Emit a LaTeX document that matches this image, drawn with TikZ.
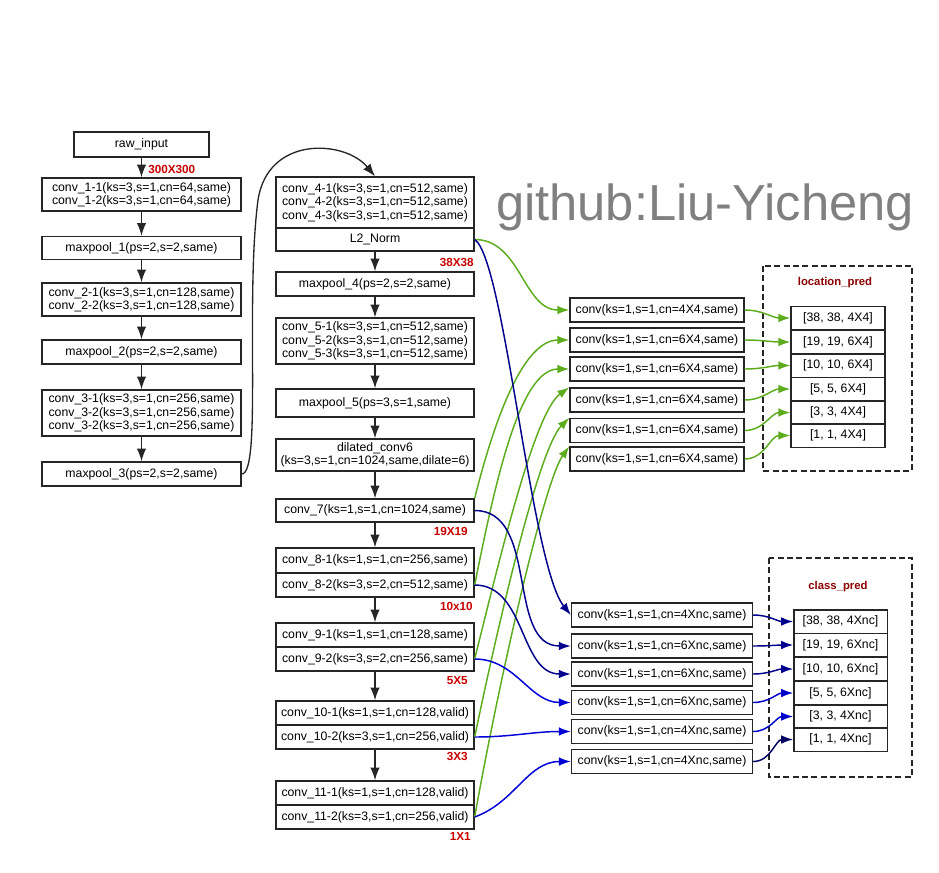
\documentclass[tikz,border=0pt]{standalone}
\usepackage{fontspec}
\setmainfont{Liberation Sans}
\usetikzlibrary{arrows.meta,positioning}
\definecolor{lgreen}{RGB}{92,172,30}
\definecolor{navy}{RGB}{0,0,140}
\definecolor{lblue}{RGB}{0,0,215}
\definecolor{dimred}{RGB}{200,0,0}
\definecolor{titlered}{RGB}{140,0,0}

\tikzset{
  box/.style={draw=black!85, line width=1pt, fill=white, inner sep=0pt, align=center, font=\fontsize{9.2}{10}\selectfont},
  dimlabel/.style={text=dimred, inner sep=0pt, font=\fontsize{8.8}{9}\selectfont\bfseries},
  predtitle/.style={text=titlered, inner sep=0pt, font=\fontsize{8.5}{9}\selectfont\bfseries},
  flow/.style={-{Latex[length=9.5pt,width=7pt]}, line width=1pt, black!85},
  gline/.style={-{Latex[length=9pt,width=6.5pt]}, line width=1.1pt, lgreen},
  bline/.style={-{Latex[length=9pt,width=6.5pt]}, line width=1.1pt, navy},
  frame/.style={draw=black!85, line width=1pt, dash pattern=on 4.5pt off 2.5pt},
}

\begin{document}
\begin{tikzpicture}[x=0.75pt,y=-0.75pt]
\useasboundingbox (0,0) rectangle (939,872);

% watermark
\node[text=black!50, font=\fontsize{38}{38}\selectfont] (wm) at (705,207) {github:Liu-Yicheng};

% left column
\node[box, minimum width=101.25pt, minimum height=18.75pt] (raw) at (141.5,144.5) {raw\_input};
\node[box, minimum width=149.25pt, minimum height=24.75pt] (c1) at (141.5,194.5) {conv\_1-1(ks=3,s=1,cn=64,same)\\conv\_1-2(ks=3,s=1,cn=64,same)};
\node[box, minimum width=149.25pt, minimum height=17.25pt] (mp1) at (141.5,248) {maxpool\_1(ps=2,s=2,same)};
\node[box, minimum width=149.25pt, minimum height=24.75pt] (c2) at (141.5,299.5) {conv\_2-1(ks=3,s=1,cn=128,same)\\conv\_2-2(ks=3,s=1,cn=128,same)};
\node[box, minimum width=149.25pt, minimum height=18pt] (mp2) at (141.5,352) {maxpool\_2(ps=2,s=2,same)};
\node[box, minimum width=149.25pt, minimum height=34.5pt] (c3) at (141.5,413) {conv\_3-1(ks=3,s=1,cn=256,same)\\conv\_3-2(ks=3,s=1,cn=256,same)\\conv\_3-2(ks=3,s=1,cn=256,same)};
\node[box, minimum width=149.25pt, minimum height=18pt] (mp3) at (141.5,474) {maxpool\_3(ps=2,s=2,same)};

% middle column
\node[box, minimum width=148.5pt, minimum height=38.25pt] (c4) at (375,202.5) {conv\_4-1(ks=3,s=1,cn=512,same)\\conv\_4-2(ks=3,s=1,cn=512,same)\\conv\_4-3(ks=3,s=1,cn=512,same)};
\node[box, minimum width=148.5pt, minimum height=17.25pt] (l2) at (375,239.5) {L2\_Norm};
\node[box, minimum width=148.5pt, minimum height=18pt] (mp4) at (375,284) {maxpool\_4(ps=2,s=2,same)};
\node[box, minimum width=148.5pt, minimum height=34.5pt] (c5) at (375,341) {conv\_5-1(ks=3,s=1,cn=512,same)\\conv\_5-2(ks=3,s=1,cn=512,same)\\conv\_5-3(ks=3,s=1,cn=512,same)};
\node[box, minimum width=148.5pt, minimum height=21pt] (mp5) at (375,403) {maxpool\_5(ps=3,s=1,same)};
\node[box, minimum width=148.5pt, minimum height=24pt] (dc6) at (375,455) {dilated\_conv6\\(ks=3,s=1,cn=1024,same,dilate=6)};
\node[box, minimum width=148.5pt, minimum height=17.25pt] (c7) at (375,510.5) {conv\_7(ks=1,s=1,cn=1024,same)};
\node[box, minimum width=148.5pt, minimum height=18.75pt] (c81) at (375,560.5) {conv\_8-1(ks=1,s=1,cn=256,same)};
\node[box, minimum width=148.5pt, minimum height=18pt] (c82) at (375,585) {conv\_8-2(ks=3,s=2,cn=512,same)};
\node[box, minimum width=148.5pt, minimum height=18pt] (c91) at (375,635) {conv\_9-1(ks=1,s=1,cn=128,same)};
\node[box, minimum width=148.5pt, minimum height=18pt] (c92) at (375,659) {conv\_9-2(ks=3,s=2,cn=256,same)};
\node[box, minimum width=148.5pt, minimum height=18pt] (c101) at (375,713) {conv\_10-1(ks=1,s=1,cn=128,valid)};
\node[box, minimum width=148.5pt, minimum height=18pt] (c102) at (375,737) {conv\_10-2(ks=3,s=1,cn=256,valid)};
\node[box, minimum width=148.5pt, minimum height=18pt] (c111) at (375,793) {conv\_11-1(ks=1,s=1,cn=128,valid)};
\node[box, minimum width=148.5pt, minimum height=18pt] (c112) at (375,817) {conv\_11-2(ks=3,s=1,cn=256,valid)};

% feature map sizes
\node[dimlabel, anchor=west] (d300) at (148,169) {300X300};
\foreach \nm/\x/\y/\t in {d38/474/262/38X38, d19/468/531/19X19, d10/473/606/10x10, d5/468/681/5X5, d3/468/756/3X3, d1/471/836/1X1}
    \node[dimlabel, anchor=east] (\nm) at (\x,\y) {\t};

% backbone arrows
\foreach \a/\b in {raw/c1, c1/mp1, mp1/c2, c2/mp2, mp2/c3, c3/mp3, l2/mp4, mp4/c5, c5/mp5, mp5/dc6, dc6/c7, c7/c81, c82/c91, c92/c101, c102/c111}
    \draw[flow] (\a) -- (\b);
\draw[flow] (mp3.east) .. controls (262,474) and (245,300) .. (258,200) .. controls (268,135) and (345,140) .. (c4.north);

% location branch
\foreach \i/\y/\cn in {1/310/4X4, 2/340/6X4, 3/369/6X4, 4/400/6X4, 5/430.5/6X4, 6/459/6X4}
    \node[box, minimum width=130.5pt, minimum height=18pt] (loc\i) at (657,\y) {conv(ks=1,s=1,cn=\cn,same)};
\draw[frame] (763,266) rectangle (912,471);
\node[predtitle] (loctitle) at (835,283) {location\_pred};
\foreach \i/\y/\t in {1/318/{[38, 38, 4X4]}, 2/342/{[19, 19, 6X4]}, 3/365.5/{[10, 10, 6X4]}, 4/389/{[5, 5, 6X4]}, 5/412.5/{[3, 3, 4X4]}, 6/435.5/{[1, 1, 4X4]}}
    \node[box, minimum width=70.5pt, minimum height=17.5pt] (lp\i) at (838,\y) {\t};
\foreach \i in {1,...,6}
    \draw[gline] (loc\i.east) to[out=0,in=180] (lp\i.west);

% class branch
\foreach \i/\y/\cn in {1/615/4Xnc, 2/646/6Xnc, 3/674/6Xnc, 4/702.5/6Xnc, 5/731.5/4Xnc, 6/761.5/4Xnc}
    \node[box, minimum width=135.75pt, minimum height=18pt] (cls\i) at (662,\y) {conv(ks=1,s=1,cn=\cn,same)};
\draw[frame] (769,558) rectangle (912,777);
\node[predtitle] (clstitle) at (838,587) {class\_pred};
\foreach \i/\y/\t in {1/621.5/{[38, 38, 4Xnc]}, 2/645/{[19, 19, 6Xnc]}, 3/669/{[10, 10, 6Xnc]}, 4/693/{[5, 5, 6Xnc]}, 5/716.5/{[3, 3, 4Xnc]}, 6/739.5/{[1, 1, 4Xnc]}}
    \node[box, minimum width=70pt, minimum height=17.5pt] (cp\i) at (840.5,\y) {\t};
\foreach \i/\c in {1/navy, 2/navy, 3/navy, 4/lblue!80!navy, 5/lblue!80!navy, 6/navy!70!black}
    \draw[bline, \c] (cls\i.east) to[out=0,in=180] (cp\i.west);

% green links to location convs
\draw[gline] (l2.east) to[out=0,in=180] (loc1.west);
\draw[gline] (c7.north east) .. controls +(15,-60) and +(-50,0) .. (loc2.west);
\draw[gline] (c82.east) .. controls +(20,-100) and +(-50,0) .. (loc3.west);
\draw[gline] (c92.east) .. controls +(25,-100) and +(-35,25) .. (loc4.north west);
\draw[gline] (c102.east) .. controls +(25,-120) and +(-30,30) .. (loc5.north west);
\draw[gline] (c112.east) .. controls +(25,-140) and +(-25,35) .. (loc6.north west);

% blue links to class convs
\draw[bline] (l2.east) .. controls +(30,20) and +(-40,-50) .. (cls1.west);
\draw[bline] (c7.east) to[out=0,in=180] (cls2.west);
\draw[bline] (c82.east) to[out=0,in=180] (cls3.west);
\draw[bline, lblue] (c92.east) to[out=0,in=180] (cls4.west);
\draw[bline, lblue] (c102.east) to[out=0,in=180] (cls5.west);
\draw[bline, lblue] (c112.east) to[out=20,in=180] (cls6.west);

\end{tikzpicture}
\end{document}
